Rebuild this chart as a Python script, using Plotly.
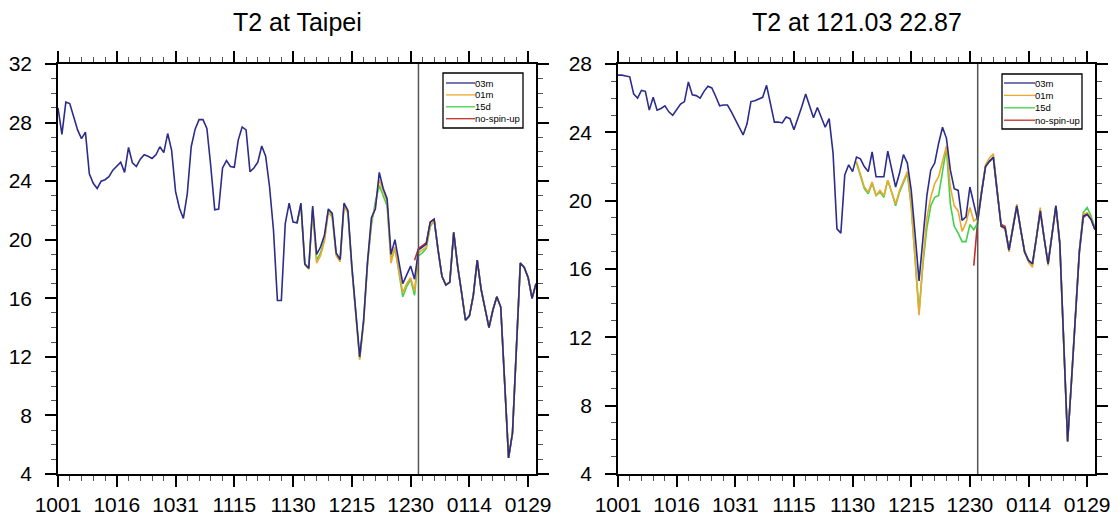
import plotly.graph_objects as go

# ---------------- data ----------------
day_labels = ["1001", "1016", "1031", "1115", "1130", "1215", "1230", "0114", "0129"]
n_days = 123  # 1 Oct .. 31 Jan
days = list(range(n_days))
jan1 = 92

series_names = ["03m", "01m", "15d", "no-spin-up"]
series_colors = ["#2c2c8c", "#eaa92e", "#3fd24a", "#c0302c"]

# ---- T2 at Taipei ----
taipei_03m = [29.0, 27.2, 29.4, 29.3, 28.4, 27.5, 26.9, 27.35, 24.5, 23.85,
              23.5, 24.0, 24.1, 24.3, 24.75, 25.0, 25.3, 24.6, 26.3, 25.25,
              25.0, 25.5, 25.8, 25.7, 25.55, 25.8, 26.35, 25.95, 27.25, 26.1,
              23.3, 22.15, 21.45, 23.15, 26.35, 27.55, 28.2, 28.2, 27.6, 25.0,
              22.05, 22.1, 24.9, 25.4, 25.0, 24.95, 26.8, 27.7, 27.5, 24.65,
              24.9, 25.3, 26.4, 25.7, 23.6, 20.65, 15.85, 15.85, 21.1, 22.5,
              21.2, 21.15, 22.5, 18.35, 18.05, 22.3, 19.0, 19.5, 20.3, 22.1,
              21.8, 19.1, 18.65, 22.5, 22.0, 18.2, 15.0, 12.0, 14.5, 18.5,
              21.5, 22.1, 24.6, 23.5, 22.8, 19.0, 20.0, 18.5, 17.0, 17.6,
              18.2, 17.3, 19.3, 19.5, 19.7, 21.2, 21.4, 19.3, 17.5, 16.9,
              17.1, 20.5, 18.2, 16.4, 14.5, 14.8, 16.2, 18.6, 16.6, 15.3,
              14.0, 15.2, 16.1, 15.4, 10.2, 5.1, 6.8, 12.6, 18.4, 18.1,
              17.4, 16.0, 17.0]
taipei_01m_start = 61
taipei_01m = [21.15, 22.4, 18.3, 18.0, 22.1, 18.4, 18.9, 19.9, 21.9, 21.5,
              18.9, 18.5, 22.3, 21.8, 18.0, 14.8, 11.8, 14.3, 18.3, 21.3,
              22.3, 24.1, 23.3, 22.6, 18.4, 19.5, 17.9, 16.4, 17.0, 17.4,
              16.5, 19.1, 19.3, 19.5, 21.0, 21.3, 19.3, 17.5, 16.9, 17.1,
              20.5, 18.2, 16.4, 14.5, 14.8, 16.2, 18.6, 16.6, 15.3, 14.0,
              15.2, 16.1, 15.4, 10.2, 5.1, 6.8, 12.6, 18.4, 18.1, 17.4,
              16.0, 17.0]
taipei_15d_start = 61
taipei_15d = [21.1, 22.4, 18.3, 18.0, 22.1, 18.6, 19.1, 20.0, 22.0, 21.6,
              19.0, 18.5, 22.4, 21.9, 18.1, 14.9, 11.9, 14.4, 18.4, 21.0,
              22.6, 23.7, 23.0, 22.3, 18.6, 19.4, 17.8, 16.1, 16.8, 17.3,
              16.2, 18.9, 19.1, 19.4, 20.9, 21.3, 19.3, 17.5, 16.9, 17.1,
              20.5, 18.2, 16.4, 14.5, 14.8, 16.2, 18.6, 16.6, 15.3, 14.0,
              15.2, 16.1, 15.4, 10.2, 5.1, 6.8, 12.6, 18.4, 18.1, 17.4,
              16.0, 17.0]
taipei_nsu_start = 91
taipei_nsu = [18.6, 19.4, 19.6, 19.8, 21.2, 21.4, 19.3, 17.5, 16.9, 17.1,
              20.5, 18.2, 16.4, 14.5, 14.8, 16.2, 18.6, 16.6, 15.3, 14.0,
              15.2, 16.1, 15.4, 10.2, 5.1, 6.8, 12.6, 18.4, 18.1, 17.4,
              16.0, 17.0]

# ---- T2 at 121.03 22.87 ----
pt_03m = [27.35, 27.35, 27.3, 27.25, 26.25, 26.0, 26.45, 26.4, 25.3, 26.05,
          25.3, 25.4, 25.55, 25.2, 25.0, 25.35, 25.65, 25.8, 26.95, 26.2,
          26.15, 26.0, 26.4, 26.7, 26.6, 26.1, 25.55, 25.6, 25.6, 25.2,
          24.75, 24.35, 23.85, 24.5, 25.8, 25.85, 25.95, 26.05, 26.75, 25.7,
          24.6, 24.6, 24.55, 24.9, 24.8, 24.15, 24.8, 25.5, 26.25, 25.6,
          24.85, 25.45, 24.9, 24.3, 24.8, 22.8, 18.35, 18.1, 21.5, 22.1,
          21.7, 22.55, 22.45, 22.0, 21.7, 22.85, 21.4, 21.4, 21.4, 22.9,
          21.8, 20.8, 21.6, 22.7, 22.2, 20.6, 18.0, 15.3, 17.8, 20.3,
          21.8, 22.2, 23.35, 24.3, 23.65, 21.8, 20.7, 20.6, 18.85, 19.05,
          20.8, 19.8, 18.85, 20.5, 22.0, 22.3, 22.55, 20.5, 18.5, 18.4,
          17.1, 18.4, 19.7, 18.3, 17.0, 16.5, 16.3, 17.8, 19.4, 17.8,
          16.3, 18.0, 19.7, 17.5, 11.7, 5.9, 9.5, 13.3, 17.0, 19.1,
          19.2, 18.9, 18.3]
pt_01m_start = 61
pt_01m = [22.3, 21.6, 20.8, 20.5, 21.1, 20.3, 20.6, 20.3, 21.2, 20.5,
          19.8, 20.6, 21.2, 21.7, 19.8, 16.5, 13.3, 16.5, 19.0, 20.2,
          21.0, 21.4, 22.3, 23.2, 20.8, 19.7, 19.4, 18.2, 18.7, 19.6,
          18.8, 19.0, 20.6, 22.1, 22.5, 22.75, 20.6, 18.5, 18.3, 17.0,
          18.5, 19.8, 18.3, 17.0, 16.4, 16.1, 17.8, 19.6, 17.8, 16.2,
          18.0, 19.6, 17.4, 11.7, 5.9, 9.5, 13.3, 17.0, 19.2, 19.3,
          19.0, 18.3]
pt_15d_start = 61
pt_15d = [22.2, 21.5, 20.7, 20.4, 21.0, 20.3, 20.5, 20.2, 21.2, 20.5,
          19.7, 20.5, 21.1, 21.6, 19.6, 16.3, 13.5, 16.3, 18.4, 19.7,
          20.2, 20.3, 21.8, 23.1, 19.8, 18.5, 18.1, 17.6, 17.6, 18.6,
          18.3, 18.7, 20.5, 22.0, 22.3, 22.5, 20.5, 18.5, 18.4, 17.1,
          18.4, 19.7, 18.3, 17.0, 16.5, 16.3, 17.8, 19.4, 17.8, 16.3,
          18.0, 19.7, 17.5, 11.7, 5.9, 9.5, 13.3, 17.1, 19.3, 19.6,
          19.1, 18.4]
pt_nsu_start = 91
pt_nsu = [16.2, 18.85, 20.5, 22.0, 22.3, 22.5, 20.5, 18.6, 18.5, 17.1,
          18.4, 19.7, 18.3, 17.0, 16.5, 16.3, 17.8, 19.4, 17.8, 16.3,
          18.0, 19.7, 17.5, 11.7, 5.9, 9.5, 13.3, 17.0, 19.0, 19.2,
          18.9, 18.3]

panels = [
    dict(title="T2 at Taipei", ax="x", ay="y",
         series=[(0, taipei_03m), (taipei_01m_start, taipei_01m),
                 (taipei_15d_start, taipei_15d), (taipei_nsu_start, taipei_nsu)]),
    dict(title="T2 at 121.03 22.87", ax="x2", ay="y2",
         series=[(0, pt_03m), (pt_01m_start, pt_01m),
                 (pt_15d_start, pt_15d), (pt_nsu_start, pt_nsu)]),
]

# ---------------- figure ----------------
# the page body has an 8px default margin, so the figure is 1110x514
OFF = 8
FW, FH = 1118 - OFF, 522 - OFF
FONT = "Liberation Sans, Arial, Helvetica, sans-serif"


def px(x):
    return (x - OFF) / FW


def py(y):
    return 1 - (y - OFF) / FH


fig = go.Figure()
for p in panels:
    # draw in reverse so that 03m sits on top
    for k in [3, 2, 1, 0]:
        start, vals = p["series"][k]
        fig.add_trace(go.Scatter(
            x=days[start:start + len(vals)], y=vals, mode="lines",
            name=series_names[k], showlegend=False,
            line=dict(color=series_colors[k], width=1.6),
            xaxis=p["ax"], yaxis=p["ay"], hoverinfo="skip"))

ydom = [py(474), py(64)]
xdoms = [[px(58), px(536)], [px(618), px(1095)]]
yranges = [[4, 32], [4, 28]]


def xaxis_style(dom, anchor):
    return dict(domain=dom, anchor=anchor, range=[0, n_days - 1],
                tickmode="array", tickvals=[15 * i for i in range(len(day_labels))],
                ticktext=day_labels, ticks="outside", ticklen=11, tickwidth=1.6,
                tickcolor="black", showline=True, linecolor="black", linewidth=1.6,
                mirror="ticks", showgrid=False, zeroline=False,
                tickfont=dict(size=21, color="black", family=FONT),
                minor=dict(tickmode="linear", tick0=0, dtick=3, ticks="outside",
                           ticklen=5, tickwidth=1, tickcolor="#555"),
                automargin=False, fixedrange=True)


def yaxis_style(rng, anchor):
    return dict(domain=ydom, anchor=anchor, range=rng, tickmode="linear",
                tick0=4, dtick=4, ticks="outside", ticklen=11, tickwidth=1.6,
                tickcolor="black", showline=True, linecolor="black", linewidth=1.6,
                mirror="ticks", showgrid=False, zeroline=False,
                ticklabelstandoff=9,
                tickfont=dict(size=21, color="black", family=FONT),
                minor=dict(tickmode="linear", tick0=4, dtick=1, ticks="outside",
                           ticklen=5, tickwidth=1, tickcolor="#555"),
                automargin=False, fixedrange=True)


annotations = []
shapes = []
for i, p in enumerate(panels):
    annotations.append(dict(text=p["title"], xref="paper", yref="paper",
                            x=(xdoms[i][0] + xdoms[i][1]) / 2, y=py(22),
                            xanchor="center", yanchor="middle", showarrow=False,
                            font=dict(size=25, color="black", family=FONT)))

for ax in ["x", "x2"]:
    shapes.append(dict(type="line", xref=ax, yref=ax.replace("x", "y") + " domain",
                       x0=jan1, x1=jan1, y0=0, y1=1,
                       line=dict(color="#555555", width=1.5)))

# legend boxes (one per panel), drawn as layout decorations
legend_boxes = [dict(x0=443, y0=73, x1=523, y1=128, first=83, step=11.9, lx0=446, lx1=475),
                dict(x0=1002, y0=74, x1=1082, y1=129, first=83, step=12.4, lx0=1004, lx1=1035)]
for b in legend_boxes:
    shapes.append(dict(type="rect", xref="paper", yref="paper",
                       x0=px(b["x0"]), x1=px(b["x1"]), y0=py(b["y1"]), y1=py(b["y0"]),
                       line=dict(color="black", width=1.3), fillcolor="white", layer="above"))
    for k, name in enumerate(series_names):
        yy = b["first"] + k * b["step"]
        shapes.append(dict(type="line", xref="paper", yref="paper",
                           x0=px(b["lx0"]), x1=px(b["lx1"]), y0=py(yy), y1=py(yy),
                           line=dict(color=series_colors[k], width=1.3), layer="above"))
        annotations.append(dict(text=name, xref="paper", yref="paper",
                                x=px(b["lx1"]), y=py(yy), xanchor="left", yanchor="middle",
                                showarrow=False, xshift=-2,
                                font=dict(size=9.5, color="black", family=FONT)))

fig.update_layout(
    width=FW, height=FH, margin=dict(l=0, r=0, t=0, b=0),
    paper_bgcolor="white", plot_bgcolor="white",
    font=dict(family=FONT, color="black"),
    xaxis=xaxis_style(xdoms[0], "y"), yaxis=yaxis_style(yranges[0], "x"),
    xaxis2=xaxis_style(xdoms[1], "y2"), yaxis2=yaxis_style(yranges[1], "x2"),
    annotations=annotations, shapes=shapes,
    showlegend=False,
)

fig.write_html("out.html")
